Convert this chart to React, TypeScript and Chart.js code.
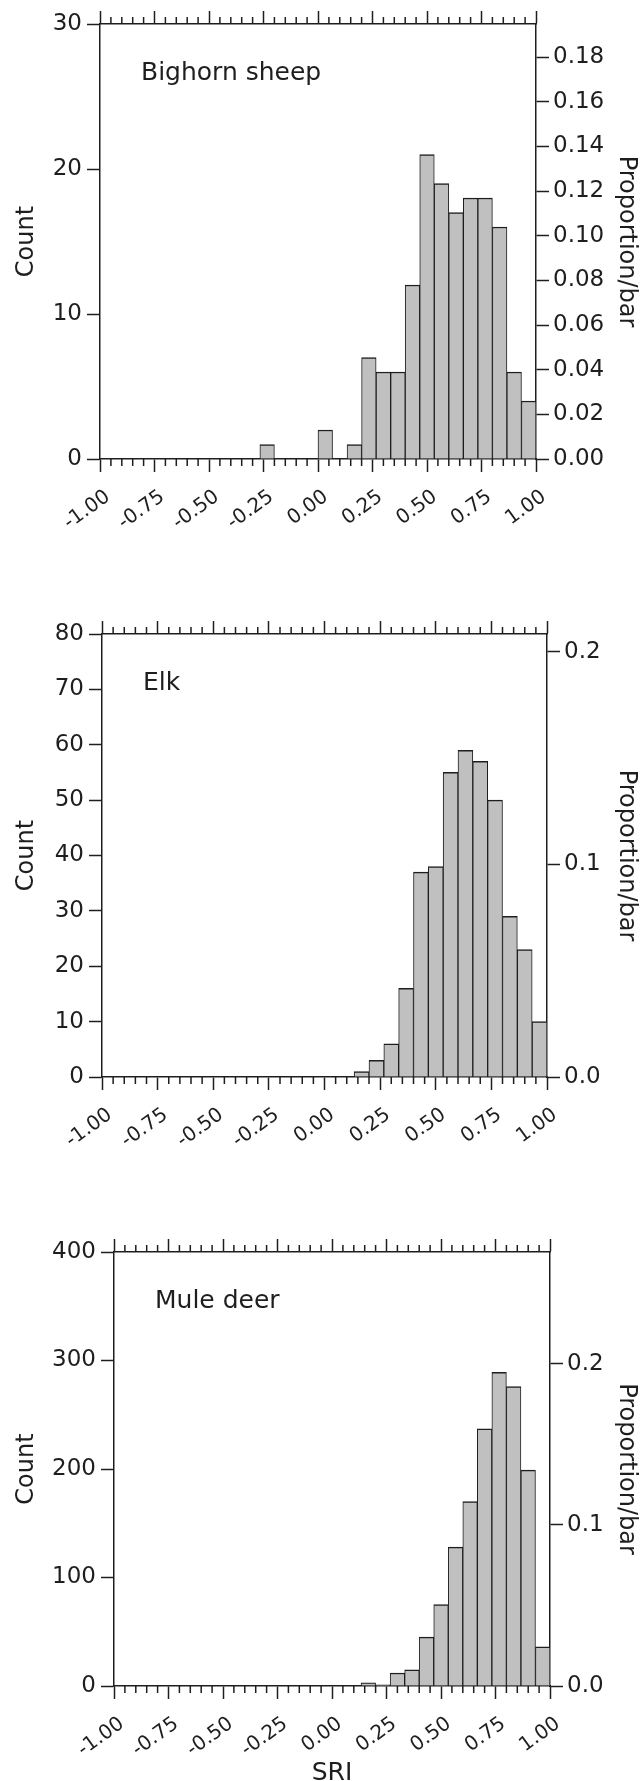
import React, { useEffect, useRef } from 'react';
import { Chart, registerables } from 'chart.js';

Chart.register(...registerables);

// ---------------- data ----------------
// 30 bins of width 1/15 covering SRI -1.00 .. 1.00 (counts per bin)
const BIN_START = -1;
const BIN_WIDTH = 1 / 15;

const bighornCounts = [0, 0, 0, 0, 0, 0, 0, 0, 0, 0, 0, 1, 0, 0, 0, 2, 0, 1, 7, 6, 6, 12, 21, 19, 17, 18, 18, 16, 6, 4];
const elkCounts = [0, 0, 0, 0, 0, 0, 0, 0, 0, 0, 0, 0, 0, 0, 0, 0, 0, 1, 3, 6, 16, 37, 38, 55, 59, 57, 50, 29, 23, 10];
const muleDeerCounts = [0, 0, 0, 0, 0, 0, 0, 0, 0, 0, 0, 0, 0, 0, 0, 0, 0, 3, 1, 12, 15, 45, 75, 128, 170, 237, 289, 276, 199, 36];

const sriTicks = [-1, -0.75, -0.5, -0.25, 0, 0.25, 0.5, 0.75, 1];
const sriMinorStep = 0.05;

const bighornCountTicks = [0, 10, 20, 30];
const bighornPropTicks = [0, 0.02, 0.04, 0.06, 0.08, 0.1, 0.12, 0.14, 0.16, 0.18];
const elkCountTicks = [0, 10, 20, 30, 40, 50, 60, 70, 80];
const elkPropTicks = [0, 0.1, 0.2];
const muleDeerCountTicks = [0, 100, 200, 300, 400];
const muleDeerPropTicks = [0, 0.1, 0.2];

// ---------------- style / layout ----------------
const INK = '#1e1e1e';
const BAR_FILL = '#c0c0c0';
const FONT = "'DejaVu Sans', 'Noto Sans', sans-serif";

const PANELS = [
  {
    name: 'Bighorn sheep', counts: bighornCounts, countTicks: bighornCountTicks, propTicks: bighornPropTicks, propDecimals: 2, xTitle: false,
    canvasTop: 0, canvasHeight: 590, left: 100, right: 536, top: 24, bottom: 459,
  },
  {
    name: 'Elk', counts: elkCounts, countTicks: elkCountTicks, propTicks: elkPropTicks, propDecimals: 1, xTitle: false,
    canvasTop: 590, canvasHeight: 610, left: 102, right: 547, top: 44, bottom: 487,
  },
  {
    name: 'Mule deer', counts: muleDeerCounts, countTicks: muleDeerCountTicks, propTicks: muleDeerPropTicks, propDecimals: 1, xTitle: true,
    canvasTop: 1200, canvasHeight: 600, left: 114, right: 550, top: 52, bottom: 486,
  },
];

const WIDTH = 643;

const minorTicksPlugin = {
  id: 'minorTicks',
  afterDraw(chart: any) {
    const xs = chart.scales.x;
    const { top, bottom } = chart.chartArea;
    const ctx = chart.ctx;
    ctx.save();
    ctx.strokeStyle = INK;
    ctx.lineWidth = 1.5;
    const n = Math.round((xs.max - xs.min) / sriMinorStep);
    for (let i = 0; i <= n; i++) {
      if (i % 5 === 0) continue;
      const v = xs.min + i * sriMinorStep;
      const px = xs.getPixelForValue(v);
      ctx.beginPath();
      ctx.moveTo(px, bottom);
      ctx.lineTo(px, bottom + 7);
      ctx.moveTo(px, top);
      ctx.lineTo(px, top - 7);
      ctx.stroke();
    }
    ctx.restore();
  },
};

const panelLabelPlugin = {
  id: 'panelLabel',
  afterDraw(chart: any, _args: any, opts: any) {
    const { left, top } = chart.chartArea;
    const ctx = chart.ctx;
    ctx.save();
    ctx.fillStyle = INK;
    ctx.font = `25px ${FONT}`;
    ctx.textAlign = 'left';
    ctx.textBaseline = 'alphabetic';
    ctx.fillText(opts.text, left + 41, top + 56);
    ctx.restore();
  },
};

function Panel({ p }: { p: any }) {
  const ref = useRef<HTMLCanvasElement | null>(null);
  useEffect(() => {
    if (!ref.current) return;
    const total = p.counts.reduce((a: number, b: number) => a + b, 0);
    const countMax = p.countTicks[p.countTicks.length - 1];
    const data = p.counts.map((c: number, i: number) => ({ x: BIN_START + (i + 0.5) * BIN_WIDTH, y: c }));
    const leftW = p.left;
    const rightW = WIDTH - p.right;
    const topH = p.top;
    const bottomH = p.canvasHeight - p.bottom;

    const gridCommon = {
      offset: false,
      drawOnChartArea: false,
      drawTicks: true,
      tickLength: 13,
      tickColor: INK,
      tickWidth: 1.5,
    };
    const borderCommon = { display: true, color: INK, width: 1.5 };

    const chart = new Chart(ref.current, {
      type: 'bar',
      data: {
        datasets: [
          {
            data,
            backgroundColor: BAR_FILL,
            borderColor: INK,
            borderWidth: { top: 1.5, left: 1, right: 1, bottom: 0 },
            borderSkipped: 'start',
            barPercentage: 1,
            categoryPercentage: 1,
            xAxisID: 'x',
            yAxisID: 'y',
          },
        ],
      },
      options: {
        responsive: false,
        animation: false,
        events: [],
        layout: { padding: 0 },
        plugins: {
          legend: { display: false },
          tooltip: { enabled: false },
          panelLabel: { text: p.name },
        } as any,
        scales: {
          x: {
            type: 'linear',
            position: 'bottom',
            min: -1,
            max: 1,
            offset: false,
            z: 1,
            grid: gridCommon,
            border: borderCommon,
            ticks: {
              autoSkip: false,
              minRotation: 36,
              maxRotation: 36,
              padding: 13,
              labelOffset: 8,
              color: INK,
              font: { family: FONT, size: 20 },
              callback: (v: any) => Number(v).toFixed(2),
            },
            afterBuildTicks: (s: any) => { s.ticks = sriTicks.map((v) => ({ value: v })); },
            afterFit: (s: any) => { s.height = bottomH; },
            title: p.xTitle
              ? { display: true, text: 'SRI', color: INK, font: { family: FONT, size: 25 }, padding: { top: 0, bottom: 12 } }
              : { display: false },
          },
          xTop: {
            type: 'linear',
            position: 'top',
            min: -1,
            max: 1,
            offset: false,
            z: 1,
            grid: gridCommon,
            border: borderCommon,
            ticks: { display: false },
            afterBuildTicks: (s: any) => { s.ticks = sriTicks.map((v) => ({ value: v })); },
            afterFit: (s: any) => { s.height = topH; },
          },
          y: {
            type: 'linear',
            position: 'left',
            min: 0,
            max: countMax,
            z: 1,
            grid: gridCommon,
            border: borderCommon,
            ticks: {
              autoSkip: false,
              padding: 5,
              color: INK,
              font: { family: FONT, size: 23 },
              callback: (v: any) => String(v),
            },
            afterBuildTicks: (s: any) => { s.ticks = p.countTicks.map((v: number) => ({ value: v })); },
            afterFit: (s: any) => { s.width = leftW; },
            title: { display: true, text: 'Count', color: INK, font: { family: FONT, size: 24 }, padding: { top: 12.6, bottom: 0 } },
          },
          yProp: {
            type: 'linear',
            position: 'right',
            min: 0,
            max: countMax / total,
            z: 1,
            grid: gridCommon,
            border: borderCommon,
            ticks: {
              autoSkip: false,
              padding: 4,
              color: INK,
              font: { family: FONT, size: 23 },
              callback: (v: any) => Number(v).toFixed(p.propDecimals),
            },
            afterBuildTicks: (s: any) => { s.ticks = p.propTicks.map((v: number) => ({ value: v })); },
            afterFit: (s: any) => { s.width = rightW; },
            title: { display: true, text: 'Proportion/bar', color: INK, font: { family: FONT, size: 24 }, padding: { top: 2.6, bottom: 0 } },
          },
        } as any,
      },
      plugins: [minorTicksPlugin, panelLabelPlugin],
    } as any);
    return () => chart.destroy();
  }, [p]);

  return (
    <canvas
      ref={ref}
      width={WIDTH}
      height={p.canvasHeight}
      style={{ position: 'absolute', left: 0, top: p.canvasTop, display: 'block' }}
    />
  );
}

export default function App() {
  return (
    <div
      style={{
        position: 'absolute',
        left: 0,
        top: 0,
        width: WIDTH,
        height: 1781,
        overflow: 'hidden',
        background: '#ffffff',
      }}
    >
      {PANELS.map((p) => (
        <Panel key={p.name} p={p} />
      ))}
    </div>
  );
}
